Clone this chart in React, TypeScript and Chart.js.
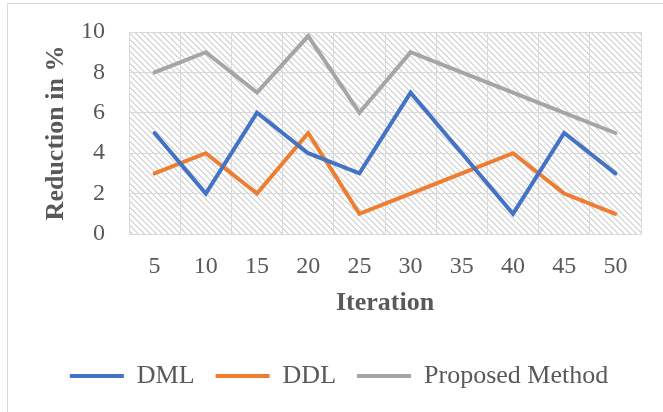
import React, { useEffect, useRef } from 'react';
import { Chart, registerables } from 'chart.js';

Chart.register(...registerables);

const categories = ['5', '10', '15', '20', '25', '30', '35', '40', '45', '50'];
const dmlValues = [5, 2, 6, 4, 3, 7, 4, 1, 5, 3];
const ddlValues = [3, 4, 2, 5, 1, 2, 3, 4, 2, 1];
const proposedValues = [8, 9, 7, 9.8, 6, 9, 8, 7, 6, 5];
const yMin = 0;
const yMax = 10;
const yStep = 2;

const FONT = "'Liberation Serif', 'Times New Roman', serif";
const TEXT = '#595959';
const GRID = '#d9d9d9';

function makePattern(ctx: CanvasRenderingContext2D) {
  const size = 6;
  const off = document.createElement('canvas');
  off.width = size;
  off.height = size;
  const c = off.getContext('2d')!;
  const img = c.createImageData(size, size);
  for (let y = 0; y < size; y++) {
    for (let x = 0; x < size; x++) {
      const d = (((x - y) % size) + size) % size;
      const i = (y * size + x) * 4;
      const v = d === 0 || d === 1 ? 218 : 255;
      img.data[i] = v; img.data[i + 1] = v; img.data[i + 2] = v; img.data[i + 3] = 255;
    }
  }
  c.putImageData(img, 0, 0);
  return ctx.createPattern(off, 'repeat');
}

const hatchPlugin = {
  id: 'hatch',
  beforeDraw(chart: any) {
    const { ctx, chartArea } = chart;
    if (!chartArea) return;
    const p = makePattern(ctx);
    ctx.save();
    ctx.fillStyle = p || '#fff';
    ctx.fillRect(chartArea.left, chartArea.top, chartArea.right - chartArea.left, chartArea.bottom - chartArea.top);
    ctx.restore();
  },
};

export default function App() {
  const ref = useRef<HTMLCanvasElement | null>(null);

  useEffect(() => {
    if (!ref.current) return;
    const line = (label: string, data: number[], color: string) => ({
      label,
      data,
      borderColor: color,
      backgroundColor: color,
      borderWidth: 4,
      borderCapStyle: 'round' as const,
      borderJoinStyle: 'miter' as const,
      pointRadius: 0,
      pointHoverRadius: 0,
      tension: 0,
    });
    const chart = new Chart(ref.current, {
      type: 'line',
      data: {
        labels: categories,
        datasets: [
          line('DML', dmlValues, '#4472c4'),
          line('DDL', ddlValues, '#ed7d31'),
          line('Proposed Method', proposedValues, '#a5a5a5'),
        ],
      },
      options: {
        responsive: false,
        animation: false,
        devicePixelRatio: 1,
        layout: { padding: { left: 37, top: 32, right: 22, bottom: 13 } },
        plugins: {
          tooltip: { enabled: false },
          legend: {
            position: 'bottom',
            align: 'center',
            labels: {
              usePointStyle: true,
              pointStyle: 'line',
              pointStyleWidth: 54,
              padding: 21,
              color: TEXT,
              font: { family: FONT, size: 26 },
            },
          },
        },
        scales: {
          x: {
            offset: true,
            grid: { color: GRID, offset: true, drawTicks: false, lineWidth: 1 },
            border: { color: GRID },
            ticks: { color: TEXT, font: { family: FONT, size: 24 }, padding: 18.6, maxRotation: 0 },
            title: {
              display: true,
              text: 'Iteration',
              color: TEXT,
              font: { family: FONT, size: 26, weight: 'bold' },
              padding: { top: 4, bottom: 23.4 },
            },
            afterFit: (s: any) => { s.height = 108; },
          },
          y: {
            min: yMin,
            max: yMax,
            grid: { color: GRID, drawTicks: true, tickLength: 24, tickColor: 'rgba(0,0,0,0)', lineWidth: 1 },
            border: { color: GRID },
            ticks: { stepSize: yStep, color: TEXT, font: { family: FONT, size: 24 }, padding: 0 },
            title: {
              display: true,
              text: 'Reduction in %',
              color: TEXT,
              font: { family: FONT, size: 26, weight: 'bold' },
              padding: { top: 4, bottom: 4 },
            },
            afterFit: (s: any) => { s.width = 92; },
          },
        },
      },
      plugins: [hatchPlugin],
    });
    return () => chart.destroy();
  }, []);

  return (
    <div style={{ position: 'absolute', left: 0, top: 0, width: 663, height: 412, overflow: 'hidden', background: '#fff' }}>
      <div style={{ position: 'absolute', left: 7, top: 3, width: 720, height: 500, border: '1px solid #d9d9d9', boxSizing: 'border-box' }} />
      <canvas ref={ref} width={663} height={412} style={{ position: 'absolute', left: 0, top: 0 }} />
    </div>
  );
}
